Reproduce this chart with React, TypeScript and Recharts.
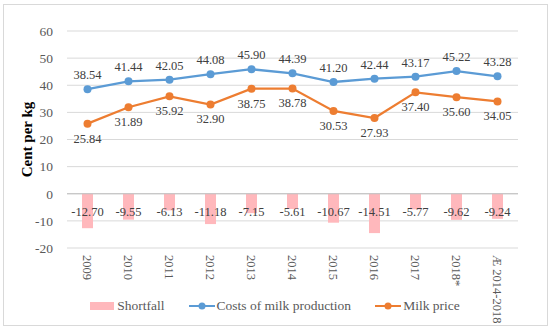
import { ComposedChart, Bar, Line, XAxis, YAxis, CartesianGrid, Legend, LabelList, ReferenceLine } from 'recharts';

const years = ['2009', '2010', '2011', '2012', '2013', '2014', '2015', '2016', '2017', '2018*', 'Æ 2014-2018'];
const costs = [38.54, 41.44, 42.05, 44.08, 45.9, 44.39, 41.2, 42.44, 43.17, 45.22, 43.28];
const price = [25.84, 31.89, 35.92, 32.9, 38.75, 38.78, 30.53, 27.93, 37.4, 35.6, 34.05];
const shortfall = [-12.7, -9.55, -6.13, -11.18, -7.15, -5.61, -10.67, -14.51, -5.77, -9.62, -9.24];
const yTicks = [-20, -10, 0, 10, 20, 30, 40, 50, 60];
const seriesOrder = ['Shortfall', 'Costs of milk production', 'Milk price'];

const data = years.map((year, i) => ({
    year,
    shortfall: shortfall[i],
    costs: costs[i],
    price: price[i],
}));

const font = '"Liberation Serif", "Times New Roman", serif';
const textColor = '#404040';

const fmt = (v: any) => Number(v).toFixed(2);

const XTick = ({ x, y, payload }: any) => (
    <text
        x={x}
        y={y + 7}
        transform={`rotate(90 ${x} ${y + 7})`}
        dy="0.35em"
        textAnchor="start"
        fontFamily={font}
        fontSize={12.5}
        fill="#595959"
    >
        {payload.value}
    </text>
);

const BarLabel = ({ x, y, width, height, value }: any) => {
    const top = Math.min(y, y + height);
    return (
        <text x={x + width / 2} y={top + 18} dy="0.35em" textAnchor="middle" fontFamily={font} fontSize={12.5} fill={textColor}>
            {fmt(value)}
        </text>
    );
};

const YLabel = ({ viewBox }: any) => {
    const cx = 27;
    const cy = viewBox.y + viewBox.height / 2;
    return (
        <text x={cx} y={cy} transform={`rotate(-90 ${cx} ${cy})`} dy="0.35em" textAnchor="middle" fontFamily={font} fontSize={15} fontWeight="bold" fill="#000">
            Cent per kg
        </text>
    );
};

const LegendContent = ({ payload }: any) => {
    const items = [...(payload || [])].sort((a: any, b: any) => seriesOrder.indexOf(a.value) - seriesOrder.indexOf(b.value));
    return (
        <div style={{ display: 'flex', justifyContent: 'center', alignItems: 'center', height: 20, fontFamily: font, fontSize: 13.5, color: '#595959' }}>
            {items.map((entry: any, i: number) => (
                <div key={i} style={{ display: 'flex', alignItems: 'center', marginLeft: i === 0 ? 0 : 24 }}>
                    {entry.type === 'rect' ? (
                        <svg width={24} height={10} style={{ marginRight: 3 }}>
                            <rect x={0} y={1} width={24} height={8} fill={entry.color} />
                        </svg>
                    ) : (
                        <svg width={26} height={10} style={{ marginRight: 2 }}>
                            <line x1={0} y1={5} x2={26} y2={5} stroke={entry.color} strokeWidth={2} />
                            <circle cx={13} cy={5} r={3.5} fill={entry.color} />
                        </svg>
                    )}
                    <span>{entry.value}</span>
                </div>
            ))}
        </div>
    );
};

export default function App() {
    return (
        <div style={{ position: 'absolute', left: 0, top: 0, width: 550, height: 328, background: '#fff' }}>
            <div style={{ position: 'absolute', left: 3, top: 4, width: 543, height: 320, border: '1px solid #D9D9D9' }} />
            <ComposedChart
                width={550}
                height={328}
                data={data}
                margin={{ top: 31, right: 32, left: 0, bottom: 12 }}
                style={{ position: 'absolute', left: 0, top: 0, fontFamily: font }}
            >
                <CartesianGrid vertical={false} stroke="#D9D9D9" />
                <XAxis dataKey="year" interval={0} tick={<XTick />} tickLine={false} axisLine={false} height={48} tickSize={0} tickMargin={0} />
                <YAxis
                    domain={[-20, 60]}
                    ticks={yTicks}
                    width={67}
                    tickLine={false}
                    axisLine={false}
                    tickSize={0}
                    tickMargin={14}
                    tick={{ fontFamily: font, fontSize: 13.5, fill: '#595959' }}
                    label={<YLabel />}
                />
                <ReferenceLine y={0} stroke="#BFBFBF" />
                <Legend
                    verticalAlign="bottom"
                    content={<LegendContent />}
                    wrapperStyle={{ left: 0, width: 550, height: 20 }}
                />
                <Bar dataKey="shortfall" name="Shortfall" fill="#FFB8BC" barSize={11} legendType="rect" isAnimationActive={false}>
                    <LabelList dataKey="shortfall" content={<BarLabel />} />
                </Bar>
                <Line
                    dataKey="costs"
                    name="Costs of milk production"
                    stroke="#5B9BD5"
                    strokeWidth={2.25}
                    dot={{ r: 4, fill: '#5B9BD5', stroke: '#5B9BD5', strokeWidth: 0 }}
                    activeDot={false}
                    legendType="line"
                    isAnimationActive={false}
                >
                    <LabelList dataKey="costs" position="top" offset={10} formatter={fmt} fill={textColor} fontSize={12.5} fontFamily={font} />
                </Line>
                <Line
                    dataKey="price"
                    name="Milk price"
                    stroke="#ED7D31"
                    strokeWidth={2.25}
                    dot={{ r: 4, fill: '#ED7D31', stroke: '#ED7D31', strokeWidth: 0 }}
                    activeDot={false}
                    legendType="line"
                    isAnimationActive={false}
                >
                    <LabelList dataKey="price" position="bottom" offset={10} formatter={fmt} fill={textColor} fontSize={12.5} fontFamily={font} />
                </Line>
            </ComposedChart>
        </div>
    );
}
